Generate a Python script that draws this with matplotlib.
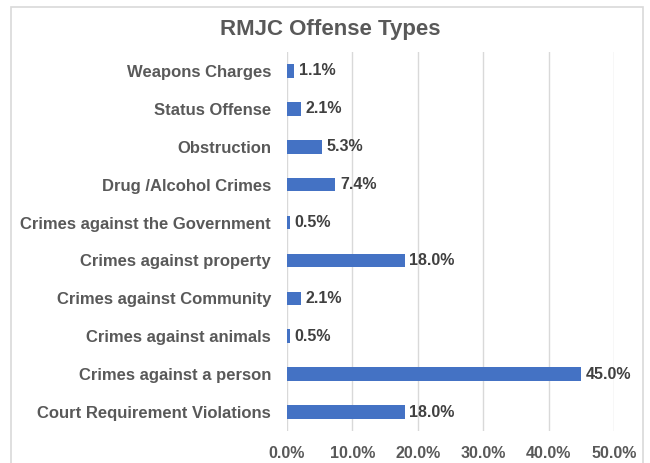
import matplotlib.pyplot as plt
from matplotlib.patches import Rectangle
from matplotlib.ticker import PercentFormatter

plt.rcParams['font.family'] = ['Liberation Sans', 'DejaVu Sans']

# Data (bottom to top as drawn)
categories = ['Court Requirement Violations', 'Crimes against a person',
              'Crimes against animals', 'Crimes against Community',
              'Crimes against property', 'Crimes against the Government',
              'Drug /Alcohol Crimes', 'Obstruction', 'Status Offense',
              'Weapons Charges']
values = [18.0, 45.0, 0.5, 2.1, 18.0, 0.5, 7.4, 5.3, 2.1, 1.1]
x_ticks = [0, 10, 20, 30, 40, 50]

text_col = '#595959'
bar_col = '#4472C4'

fig = plt.figure(figsize=(6.5, 4.63), dpi=100)
ax = fig.add_axes([0.4415, 0.0691, 0.5031, 0.8186])

# chart area border
fig.patches.append(Rectangle((0.017, -0.05), 0.972, 1.035, transform=fig.transFigure,
                             fill=False, edgecolor='#d9d9d9', linewidth=1.2))

y = range(len(categories))
ax.barh(y, values, height=0.36, color=bar_col, zorder=3)
for yi, v in zip(y, values):
    ax.text(v + 0.7, yi, f'{v:.1f}%', va='center', ha='left',
            fontsize=11.5, fontweight='bold', color='#404040')

ax.set_xlim(0, 50)
ax.set_ylim(-0.5, len(categories) - 0.5)
ax.set_xticks(x_ticks)
ax.xaxis.set_major_formatter(PercentFormatter(decimals=1))
ax.set_yticks(list(y))
ax.set_yticklabels(categories)
ax.grid(axis='x', color='#d9d9d9', linewidth=1, zorder=0)
for s in ax.spines.values():
    s.set_visible(False)
ax.tick_params(axis='both', length=0, labelsize=11.5, labelcolor=text_col)
ax.tick_params(axis='y', labelsize=12, pad=11.5)
ax.tick_params(axis='x', pad=10.5)
for lbl in ax.get_xticklabels() + ax.get_yticklabels():
    lbl.set_fontweight('bold')

fig.text(0.508, 0.937, 'RMJC Offense Types', ha='center', va='center',
         fontsize=16, fontweight='bold', color=text_col)

fig.savefig('out.png', dpi=100)
